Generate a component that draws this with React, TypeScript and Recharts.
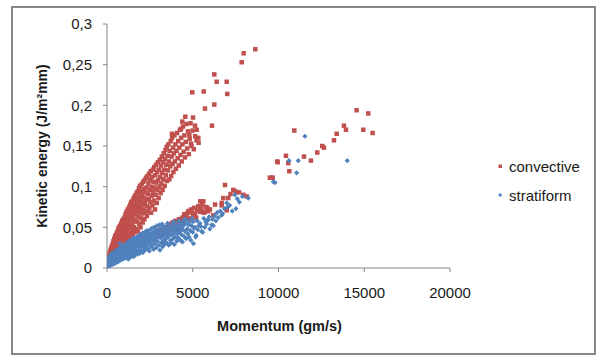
import React from 'react';
import { ScatterChart, Scatter, XAxis, YAxis } from 'recharts';

// [momentum (gm/s), kinetic energy (J/m²mm)]
const convective: [number, number][] = [
  [20,0.002],[45,0.006],[55,0.003],[75,0.010],[85,0.005],[105,0.008],[115,0.014],[130,0.004],[145,0.011],[155,0.018],
  [170,0.007],[185,0.015],[195,0.021],[205,0.010],[225,0.017],[235,0.024],[245,0.008],[265,0.013],[280,0.027],[290,0.019],
  [310,0.023],[315,0.012],[335,0.030],[345,0.016],[365,0.026],[375,0.033],[385,0.020],[405,0.029],[415,0.014],[425,0.036],
  [440,0.023],[455,0.031],[465,0.018],[475,0.039],[490,0.027],[505,0.034],
  [515,0.022],[525,0.041],[545,0.030],[555,0.037],[575,0.019],[585,0.044],[595,0.033],[615,0.026],[625,0.040],[645,0.047],
  [655,0.029],[670,0.036],[685,0.043],[695,0.050],[705,0.024],[720,0.033],[735,0.046],[745,0.039],[765,0.052],[775,0.028],
  [790,0.042],[805,0.036],[815,0.049],[835,0.055],[845,0.031],[855,0.044],[870,0.039],[885,0.058],[895,0.048],[915,0.035],
  [925,0.053],[945,0.042],[955,0.060],[965,0.029],[985,0.047],[995,0.056],
  [1015,0.038],[1025,0.062],[1045,0.051],[1055,0.044],[1075,0.066],[1085,0.033],[1100,0.058],[1115,0.049],[1135,0.069],[1145,0.040],
  [1160,0.055],[1180,0.063],[1190,0.046],[1210,0.072],[1225,0.036],[1240,0.060],[1255,0.052],[1270,0.068],[1285,0.043],[1295,0.075],
  [1315,0.057],[1325,0.064],[1345,0.039],[1360,0.078],[1375,0.050],[1390,0.070],[1405,0.061],[1420,0.081],[1435,0.045],[1450,0.066],
  [1465,0.074],[1480,0.055],[1495,0.083],
  [1515,0.041],[1525,0.070],[1545,0.061],[1560,0.086],[1575,0.050],[1590,0.077],[1605,0.068],[1615,0.044],[1635,0.089],[1645,0.058],
  [1665,0.074],[1680,0.083],[1695,0.048],[1710,0.066],[1725,0.092],[1740,0.079],[1755,0.057],[1770,0.071],[1785,0.094],[1800,0.045],
  [1815,0.086],[1830,0.063],[1845,0.076],[1860,0.098],[1875,0.054],[1890,0.081],[1905,0.069],[1920,0.101],[1935,0.088],[1950,0.050],
  [1965,0.074],[1980,0.094],[1995,0.061],
  [2010,0.083],[2025,0.103],[2045,0.067],[2060,0.090],[2080,0.056],[2095,0.078],[2110,0.106],[2130,0.072],[2145,0.097],[2165,0.086],
  [2180,0.060],[2200,0.108],[2215,0.080],[2235,0.093],[2250,0.068],[2270,0.111],[2290,0.084],[2305,0.099],[2325,0.064],[2340,0.076],
  [2360,0.113],[2380,0.091],[2395,0.070],[2415,0.104],[2435,0.085],[2450,0.116],[2470,0.074],[2490,0.096],
  [2510,0.108],[2530,0.081],[2550,0.119],[2570,0.068],[2590,0.100],[2610,0.089],[2630,0.112],[2655,0.077],[2675,0.121],[2690,0.094],
  [2710,0.106],[2735,0.083],[2755,0.124],[2775,0.099],[2795,0.072],[2815,0.114],[2840,0.090],[2860,0.127],[2880,0.105],[2900,0.080],
  [2925,0.118],[2945,0.096],[2965,0.130],[2985,0.108],
  [3010,0.086],[3035,0.121],[3055,0.100],[3080,0.133],[3100,0.112],[3125,0.092],[3150,0.126],[3170,0.104],[3195,0.137],[3220,0.117],
  [3240,0.096],[3265,0.130],[3290,0.109],[3310,0.141],[3335,0.121],[3360,0.101],[3385,0.134],[3405,0.145],[3430,0.114],[3455,0.127],
  [3480,0.149],[3500,0.107],
  [3530,0.138],[3555,0.120],[3580,0.152],[3610,0.131],[3635,0.109],[3660,0.144],[3690,0.125],[3715,0.156],[3740,0.113],[3770,0.137],
  [3795,0.160],[3820,0.128],[3850,0.148],[3875,0.118],[3905,0.141],[3930,0.163],[3960,0.131],[3990,0.152],
  [4020,0.122],[4055,0.144],[4085,0.166],[4120,0.135],[4150,0.156],[4185,0.126],[4215,0.148],[4250,0.170],[4285,0.139],[4320,0.160],
  [4355,0.131],[4395,0.152],[4430,0.174],[4470,0.143],[4510,0.163],[4550,0.136],[4590,0.155],[4630,0.177],[4680,0.147],[4720,0.168],
  [4770,0.140],[4820,0.159],[4870,0.178],[4930,0.150],[4990,0.169],[5060,0.146],[5140,0.162],[5220,0.157],
  [3790,0.165],[4316,0.171],[4391,0.180],[4566,0.186],[4799,0.164],[4897,0.153],[4973,0.216],[5014,0.185],[5130,0.175],
  [5230,0.170],[5323,0.160],[5340,0.154],[5638,0.217],[5713,0.196],[6122,0.175],[6256,0.201],[6256,0.238],[6395,0.229],[6979,0.229],
  [7014,0.214],[7853,0.253],[7970,0.264],[8646,0.269],
  [1550,0.026],[1680,0.030],[1730,0.030],[1820,0.028],[1850,0.033],[1950,0.035],[2000,0.031],[2080,0.037],[2150,0.035],[2230,0.033],
  [2313,0.034],[2380,0.039],[2450,0.038],[2530,0.036],[2600,0.036],[2680,0.042],[2750,0.041],[2820,0.038],[2895,0.043],[2970,0.046],
  [3090,0.039],[3150,0.048],[3200,0.045],[3285,0.032],[3380,0.043],[3430,0.050],[3480,0.047],[3520,0.045],[3600,0.050],[3680,0.054],
  [3750,0.048],[3820,0.056],[3900,0.053],[3980,0.058],[4060,0.055],[4140,0.049],[4200,0.060],[4256,0.051],[4220,0.045],[4350,0.058],
  [4400,0.062],[4450,0.055],[4500,0.066],[4550,0.063],[4645,0.061],[4680,0.067],[4750,0.070],[4839,0.061],[4900,0.072],[4950,0.068],
  [5030,0.065],[5080,0.074],[5130,0.067],[5200,0.062],[5250,0.071],[5330,0.076],[5422,0.069],[5440,0.082],[5500,0.073],[5560,0.078],
  [5617,0.082],[5640,0.068],[5713,0.069],[5780,0.075],[5850,0.074],[5920,0.070],[6000,0.072],[6200,0.065],[6300,0.078],
  [6686,0.077],[6690,0.080],[6783,0.086],[6880,0.102],[6980,0.071],[7074,0.086],[7200,0.091],[7365,0.096],[7500,0.094],[7700,0.093],
  [7950,0.090],[8150,0.088],[9500,0.111],[9600,0.111],[9660,0.111],[9930,0.131],[9950,0.130],[10436,0.138],[10570,0.129],[10630,0.119],
  [10920,0.169],[11485,0.137],[11893,0.132],[12261,0.142],[12553,0.150],[12650,0.148],[13234,0.157],[13390,0.165],[13817,0.175],[13934,0.170],
  [14555,0.194],[14945,0.170],[15235,0.190],[15490,0.166],
];

const stratiform: [number, number][] = [
  [15,0.001],[25,0.004],[40,0.002],[50,0.007],[65,0.003],[70,0.010],[85,0.005],[95,0.012],[105,0.002],[115,0.008],
  [125,0.004],[135,0.013],[150,0.006],[165,0.010],[175,0.003],[190,0.015],[200,0.008],[215,0.005],[230,0.012],[240,0.017],
  [255,0.007],[270,0.010],[285,0.004],[295,0.014],[310,0.018],[325,0.009],[340,0.006],[355,0.013],[365,0.016],[380,0.011],
  [395,0.005],[410,0.019],[425,0.008],[440,0.014],[455,0.011],[470,0.017],[480,0.006],[495,0.021],
  [510,0.012],[525,0.009],[540,0.016],[555,0.019],[565,0.007],[580,0.013],[600,0.022],[615,0.010],[630,0.017],[645,0.014],
  [660,0.008],[675,0.020],[690,0.012],[705,0.024],[720,0.015],[735,0.009],[750,0.018],[760,0.030],[775,0.013],[790,0.022],
  [805,0.010],[820,0.016],[835,0.025],[850,0.019],[865,0.012],[880,0.023],[895,0.015],[910,0.027],[925,0.011],[940,0.020],
  [955,0.017],[970,0.026],[985,0.013],[1000,0.022],
  [1015,0.015],[1030,0.028],[1045,0.019],[1060,0.012],[1080,0.024],[1095,0.017],[1110,0.030],[1125,0.021],[1145,0.014],[1160,0.026],
  [1175,0.019],[1190,0.031],[1210,0.016],[1225,0.023],[1240,0.011],[1255,0.028],[1275,0.020],[1290,0.033],[1310,0.017],[1325,0.025],
  [1340,0.013],[1360,0.029],[1375,0.022],[1390,0.034],[1410,0.018],[1425,0.026],[1445,0.015],[1460,0.031],[1480,0.023],[1495,0.036],
  [1515,0.019],[1530,0.027],[1550,0.014],[1570,0.032],[1585,0.024],[1600,0.037],[1620,0.020],[1640,0.029],[1655,0.016],[1675,0.034],
  [1690,0.026],[1710,0.021],[1730,0.038],[1750,0.030],[1765,0.017],[1790,0.038],[1805,0.027],[1825,0.034],[1845,0.022],[1865,0.040],
  [1880,0.030],[1900,0.018],[1920,0.035],[1940,0.026],[1960,0.041],[1980,0.032],
  [2005,0.021],[2025,0.037],[2050,0.028],[2070,0.043],[2090,0.019],[2110,0.033],[2135,0.025],[2155,0.039],[2175,0.030],[2200,0.044],
  [2220,0.022],[2245,0.035],[2265,0.027],[2290,0.041],[2310,0.032],[2335,0.046],[2355,0.024],[2380,0.037],[2400,0.029],[2425,0.043],
  [2445,0.034],[2470,0.021],[2490,0.039],
  [2515,0.047],[2535,0.031],[2560,0.026],[2580,0.041],[2605,0.036],[2625,0.049],[2650,0.028],[2670,0.038],[2695,0.044],[2715,0.023],
  [2740,0.033],[2760,0.050],[2785,0.040],[2805,0.030],[2830,0.046],[2850,0.036],[2875,0.025],[2900,0.042],[2920,0.052],[2945,0.033],
  [2970,0.047],[2990,0.039],
  [3020,0.028],[3045,0.044],[3070,0.053],[3090,0.022],[3115,0.037],[3140,0.048],[3165,0.031],[3190,0.042],[3215,0.054],[3240,0.026],
  [3265,0.039],[3285,0.050],[3310,0.034],[3335,0.045],[3360,0.029],[3385,0.041],[3410,0.051],[3435,0.036],[3460,0.047],[3485,0.031],
  [3500,0.043],
  [3530,0.055],[3555,0.038],[3575,0.043],[3600,0.028],[3625,0.049],[3650,0.040],[3673,0.051],[3700,0.034],[3725,0.045],[3750,0.031],
  [3775,0.053],[3800,0.041],[3830,0.048],[3855,0.036],[3880,0.057],[3905,0.043],[3930,0.029],[3955,0.050],[3980,0.038],
  [4010,0.046],[4040,0.054],[4070,0.033],[4100,0.042],[4130,0.050],[4160,0.037],[4190,0.058],[4220,0.045],[4256,0.053],[4285,0.034],
  [4310,0.049],[4345,0.041],[4375,0.056],[4400,0.032],[4430,0.047],[4460,0.052],[4490,0.039],[4520,0.060],[4550,0.045],[4585,0.055],
  [4615,0.036],[4645,0.059],[4680,0.048],[4715,0.042],[4750,0.053],[4785,0.038],[4820,0.057],[4855,0.046],[4890,0.034],[4925,0.052],
  [4960,0.061],[5000,0.044],
  [5030,0.057],[5040,0.030],[5080,0.049],[5130,0.050],[5170,0.038],[5200,0.040],[5250,0.058],[5300,0.047],[5350,0.052],[5422,0.055],
  [5480,0.051],[5520,0.045],[5580,0.044],[5640,0.061],[5700,0.050],[5760,0.057],[5810,0.054],[5850,0.059],[5908,0.059],[5950,0.063],
  [6000,0.048],[6100,0.053],[6150,0.060],[6200,0.052],[6280,0.064],[6350,0.058],[6420,0.068],[6490,0.062],[6600,0.070],[6690,0.065],
  [6745,0.067],[6850,0.073],[6980,0.080],[7035,0.075],[7150,0.077],[7300,0.070],[7460,0.090],[7520,0.073],[7600,0.085],[7715,0.081],
  [7900,0.088],[8240,0.086],
  [9700,0.106],[9795,0.105],[10610,0.132],[11060,0.117],[11150,0.132],[11540,0.162],[14010,0.132],
];

const xTicks = [0, 5000, 10000, 15000, 20000];
const yTicks = [0, 0.05, 0.1, 0.15, 0.2, 0.25, 0.3];
const seriesNames = ['convective', 'stratiform'];
const xTitle = 'Momentum (gm/s)';
const yTitle = 'Kinetic energy (J/m²mm)';

const RED = '#C0504D';
const BLUE = '#4F81BD';
const AXIS = '#868686';
const FONT = '"Liberation Sans", Arial, sans-serif';

const convData = convective.map(([x, y]) => ({ x, y }));
const stratData = stratiform.map(([x, y]) => ({ x, y }));

const SquareMark = (p: any) => (
  <rect x={p.cx - 2.25} y={p.cy - 2.25} width={4.5} height={4.5} fill={RED} />
);
const DiamondMark = (p: any) => (
  <path
    d={`M${p.cx},${p.cy - 2.6}L${p.cx + 2.6},${p.cy}L${p.cx},${p.cy + 2.6}L${p.cx - 2.6},${p.cy}Z`}
    fill={BLUE}
  />
);

const fmt = (v: number) => String(v).replace('.', ',');

export default function App() {
  return (
    <div style={{ position: 'absolute', left: 0, top: 0, width: 597, height: 356, background: '#fff', fontFamily: FONT }}>
      <div
        style={{
          position: 'absolute', left: 11, top: 6, width: 585, height: 349,
          border: '2px solid #878787', boxSizing: 'border-box',
        }}
      />
      <div style={{ position: 'absolute', left: 0, top: 0 }}>
        <ScatterChart width={597} height={356} margin={{ top: 24, right: 147, bottom: 58, left: 47 }}>
          <XAxis
            type="number" dataKey="x" domain={[0, 20000]} ticks={xTicks} interval={0}
            tickSize={4} tickMargin={15} height={30}
            axisLine={{ stroke: AXIS }} tickLine={{ stroke: AXIS }}
            tick={{ fill: '#1a1a1a', fontSize: 15, fontFamily: FONT }}
            allowDataOverflow
          />
          <YAxis
            type="number" dataKey="y" domain={[0, 0.3]} ticks={yTicks} interval={0}
            tickSize={4} tickMargin={11} width={60} tickFormatter={fmt}
            axisLine={{ stroke: AXIS }} tickLine={{ stroke: AXIS }}
            tick={{ fill: '#1a1a1a', fontSize: 15, fontFamily: FONT }}
            allowDataOverflow
          />
          <Scatter name={seriesNames[0]} data={convData} shape={SquareMark} isAnimationActive={false} />
          <Scatter name={seriesNames[1]} data={stratData} shape={DiamondMark} isAnimationActive={false} />
        </ScatterChart>
      </div>
      <svg width={597} height={356} style={{ position: 'absolute', left: 0, top: 0, pointerEvents: 'none' }}>
        <text x={279.5} y={331} textAnchor="middle" fontSize={14.5} fontWeight="bold" fill="#1a1a1a" fontFamily={FONT}>
          {xTitle}
        </text>
        <text
          x={47} y={146} transform="rotate(-90 47 146)" textAnchor="middle"
          fontSize={14} fontWeight="bold" fill="#1a1a1a" fontFamily={FONT}
        >
          {yTitle}
        </text>
        <rect x={498.5} y={164.5} width={3.5} height={3.5} fill={RED} />
        <text x={509} y={171.5} fontSize={15} fill="#1a1a1a" fontFamily={FONT}>{seriesNames[0]}</text>
        <path d="M500.2,193L502.2,195L500.2,197L498.2,195Z" fill={BLUE} />
        <text x={509} y={200.5} fontSize={15} fill="#1a1a1a" fontFamily={FONT}>{seriesNames[1]}</text>
      </svg>
    </div>
  );
}
